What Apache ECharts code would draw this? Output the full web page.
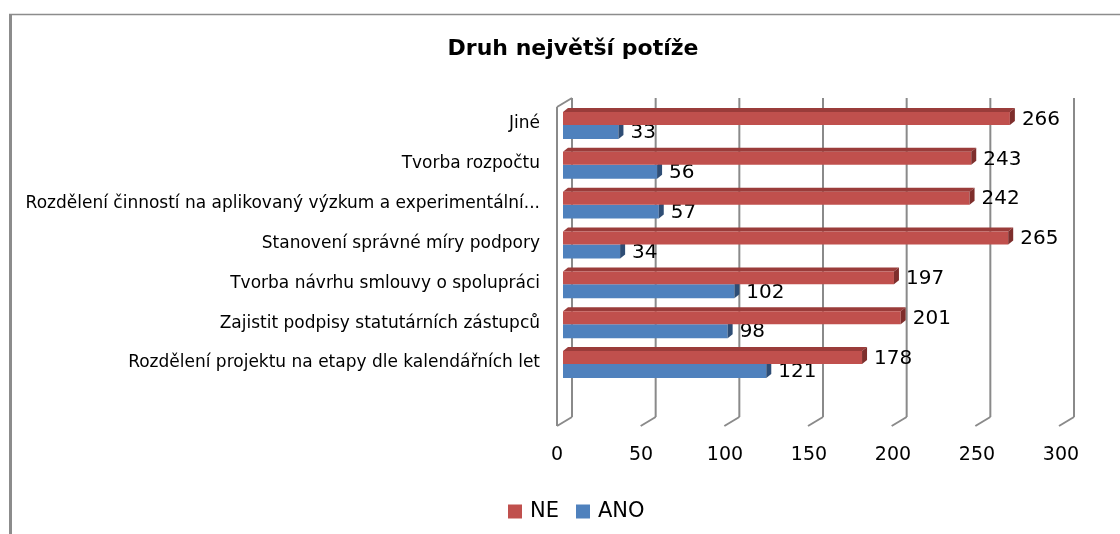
<!DOCTYPE html>
<html>
<head>
<meta charset="utf-8">
<script src="https://cdn.jsdelivr.net/npm/echarts@6/dist/echarts.min.js"></script>
<style>
  html, body { margin: 0; padding: 0; background: #fff; }
  #chart { width: 1120px; height: 534px; }
</style>
</head>
<body>
<div id="chart"></div>
<script>
// categories from bottom to top
const categories = [
  'Rozdělení projektu na etapy dle kalendářních let',
  'Zajistit podpisy statutárních zástupců',
  'Tvorba návrhu smlouvy o spolupráci',
  'Stanovení správné míry podpory',
  'Rozdělení činností na aplikovaný výzkum a experimentální...',
  'Tvorba rozpočtu',
  'Jiné'
];
const neValues = [178, 201, 197, 265, 242, 243, 266];
const anoValues = [121, 98, 102, 34, 57, 56, 33];
const ticks = [0, 50, 100, 150, 200, 250, 300];

const FONT = 'DejaVu Sans';
const wallColor = '#8a8a8a';

// 3d-ish bar: front face, top face, end cap + value label
function barRender(upper, front, topFace, cap) {
  return function (params, api) {
    const idx = api.value(1);
    const v = api.value(0);
    const end = api.coord([v, idx]);
    const start = api.coord([0, idx]);
    const band = api.size([0, 1])[1];
    const cy = end[1];
    const x0 = start[0], x1 = end[0];
    const dx = 5, dy = 4;
    let yTop, yBot;
    if (upper) {
      yTop = cy - band * 0.3;
      yBot = cy + band * 0.025;
    } else {
      yTop = cy + band * 0.025;
      yBot = cy + band * 0.375;
    }
    const children = [];
    if (upper) {
      children.push({
        type: 'polygon',
        shape: { points: [[x0, yTop], [x0 + dx, yTop - dy], [x1 + dx, yTop - dy], [x1, yTop]] },
        style: { fill: topFace }
      });
    }
    children.push({
      type: 'rect',
      shape: { x: x0, y: yTop, width: x1 - x0, height: yBot - yTop },
      style: { fill: front }
    });
    children.push({
      type: 'polygon',
      shape: { points: [[x1, yTop], [x1 + dx, yTop - dy], [x1 + dx, yBot - dy], [x1, yBot]] },
      style: { fill: cap }
    });
    children.push({
      type: 'text',
      x: x1 + dx + 7,
      y: (yTop + yBot) / 2 + 1,
      style: {
        text: String(v),
        fill: '#000',
        font: '20px "' + FONT + '"',
        verticalAlign: 'middle',
        align: 'left'
      }
    });
    return { type: 'group', children: children };
  };
}

// back wall gridlines with floor strokes
function wallRender(params, api) {
  const v = api.value(0);
  const top = api.coord([v, 1]);
  const bot = api.coord([v, 0]);
  const dx = 15, dy = 9;
  const st = { stroke: wallColor, lineWidth: 2 };
  const children = [
    { type: 'line', shape: { x1: top[0], y1: top[1], x2: bot[0], y2: bot[1] }, style: st },
    { type: 'line', shape: { x1: bot[0], y1: bot[1], x2: bot[0] - dx, y2: bot[1] + dy }, style: st }
  ];
  if (v === 0) {
    children.push({ type: 'line', shape: { x1: top[0], y1: top[1], x2: top[0] - dx, y2: top[1] + dy }, style: st });
    children.push({ type: 'line', shape: { x1: top[0] - dx, y1: top[1] + dy, x2: bot[0] - dx, y2: bot[1] + dy }, style: st });
  }
  return { type: 'group', children: children };
}

const chart = echarts.init(document.getElementById('chart'));
chart.setOption({
  backgroundColor: '#fff',
  animation: false,
  title: {
    text: 'Druh největší potíže',
    left: 568,
    top: 33,
    textAlign: 'center',
    textStyle: { fontFamily: FONT, fontSize: 22, fontWeight: 'bold', color: '#000' }
  },
  legend: {
    data: ['NE', 'ANO'],
    left: 503,
    top: 496,
    icon: 'rect',
    itemWidth: 14,
    itemHeight: 14,
    itemGap: 17,
    textStyle: { fontFamily: FONT, fontSize: 21, color: '#000', padding: [0, 0, 0, 3] }
  },
  graphic: [
    { type: 'line', shape: { x1: 9, y1: 14.5, x2: 1120, y2: 14.5 }, style: { stroke: '#8c8c8c', lineWidth: 1.5 } },
    { type: 'line', shape: { x1: 10.5, y1: 14, x2: 10.5, y2: 534 }, style: { stroke: '#8c8c8c', lineWidth: 3 } }
  ],
  grid: [
    { left: 563, right: 53, top: 104, bottom: 151 },
    { left: 572, right: 46, top: 98, bottom: 117 }
  ],
  xAxis: [
    {
      gridIndex: 0,
      type: 'value',
      min: 0,
      max: 300,
      interval: 50,
      axisLine: { show: false },
      axisTick: { show: false },
      splitLine: { show: false },
      axisLabel: {
        margin: 63,
        padding: [0, 12, 0, 0],
        color: '#000',
        fontFamily: FONT,
        fontSize: 19
      }
    },
    {
      gridIndex: 1,
      type: 'value',
      min: 0,
      max: 300,
      interval: 50,
      show: false
    }
  ],
  yAxis: [
    {
      gridIndex: 0,
      type: 'category',
      data: categories,
      axisLine: { show: false },
      axisTick: { show: false },
      axisLabel: {
        margin: 23,
        padding: [10, 0, 0, 0],
        color: '#000',
        fontFamily: FONT,
        fontSize: 17
      }
    },
    {
      gridIndex: 1,
      type: 'value',
      min: 0,
      max: 1,
      show: false
    }
  ],
  series: [
    {
      type: 'custom',
      name: 'wall',
      xAxisIndex: 1,
      yAxisIndex: 1,
      silent: true,
      renderItem: wallRender,
      data: ticks.map(function (t) { return [t]; }),
      encode: { x: 0 },
      z: 1
    },
    {
      type: 'custom',
      name: 'ANO',
      xAxisIndex: 0,
      yAxisIndex: 0,
      itemStyle: { color: '#4F81BD' },
      renderItem: barRender(false, '#4F81BD', '#3E6898', '#2E4D75'),
      data: anoValues.map(function (v, i) { return [v, i]; }),
      encode: { x: 0, y: 1 },
      z: 2
    },
    {
      type: 'custom',
      name: 'NE',
      xAxisIndex: 0,
      yAxisIndex: 0,
      itemStyle: { color: '#C0504D' },
      renderItem: barRender(true, '#C0504D', '#9A3C3A', '#7E2E2C'),
      data: neValues.map(function (v, i) { return [v, i]; }),
      encode: { x: 0, y: 1 },
      z: 3
    }
  ]
});
</script>
</body>
</html>
